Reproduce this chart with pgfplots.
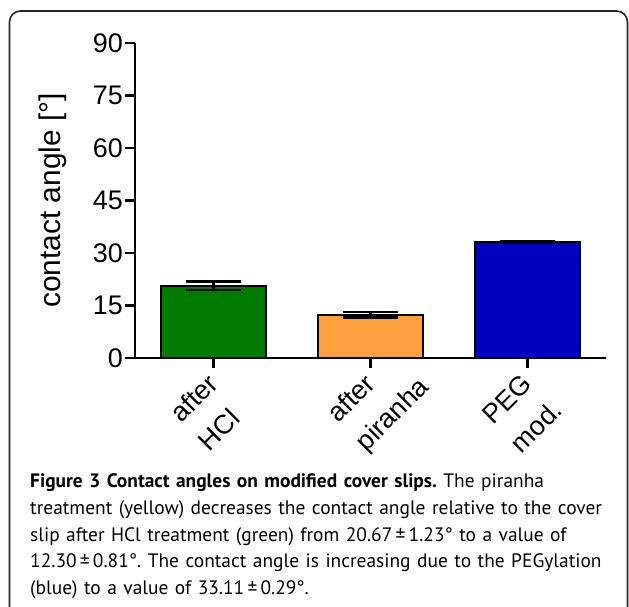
\documentclass[border=0pt]{standalone}
\usepackage{fontspec}
\setmainfont{Liberation Sans}
\newfontfamily\capfont{PT Sans}
\usepackage{pgfplots}
\pgfplotsset{compat=1.18}

\definecolor{barGreen}{RGB}{0,122,0}
\definecolor{barOrange}{RGB}{255,160,64}
\definecolor{barBlue}{RGB}{0,0,192}

% two-line tick label, left aligned; only the first line counts for the width
\newcommand\twoline[2]{\begin{tabular}{@{}l@{}}#1\\[6bp]\rlap{#2}\end{tabular}}

\begin{document}
\begin{tikzpicture}
\useasboundingbox (0bp,0bp) rectangle (629bp,607bp);
% frame round the figure, runs off the bottom of the page
\draw[line width=1.6bp, black!85, rounded corners=11bp] (9.5bp,-40bp) rectangle (627.5bp,596bp);

\begin{axis}[
  at={(135bp,249bp)}, anchor=south west,
  scale only axis, width=471bp, height=315bp,
  xmin=-0.5, xmax=2.5, ymin=0, ymax=90,
  axis x line*=bottom, axis y line*=left,
  axis line style={line width=2.6bp},
  xtick={0,1,2}, ytick={0,15,...,90},
  xticklabels={\twoline{after}{HCl},\twoline{after}{piranha},\twoline{PEG}{mod.}},
  tick align=outside, major tick length=10bp,
  tick style={line width=2.6bp, black},
  /pgf/number format/assume math mode=true,
  yticklabel style={font=\fontsize{27}{32}\selectfont, inner sep=2bp},
  xticklabel style={rotate=45, anchor=north east, xshift=-7bp, yshift=8bp,
    font=\fontsize{27}{34}\selectfont, inner sep=1bp},
  ylabel={contact angle [°]},
  every axis y label/.style={at={(axis description cs:-0.175,0.5)}, rotate=90,
    anchor=center, font=\fontsize{30}{34}\selectfont},
  ybar, bar width=105bp,
  error bars/error bar style={line width=2.6bp, black},
  error bars/error mark options={rotate=90, mark size=27.5bp, line width=2.6bp, black},
]
\addplot[fill=barGreen, draw=black, line width=2.2bp, bar shift=0pt,
  error bars/.cd, y dir=both, y explicit]
  coordinates {(0,20.67) +- (0,1.23)};
\addplot[fill=barOrange, draw=black, line width=2.2bp, bar shift=0pt,
  error bars/.cd, y dir=both, y explicit]
  coordinates {(1,12.30) +- (0,0.81)};
\addplot[fill=barBlue, draw=black, line width=2.2bp, bar shift=0pt,
  error bars/.cd, y dir=both, y explicit]
  coordinates {(2,33.11) +- (0,0.29)};
\end{axis}

\node[anchor=base west, text width=600bp, align=left, inner sep=0pt,
  font=\capfont\fontsize{19.5}{26.7}\selectfont\frenchspacing] at (30bp,119bp)
  {\textbf{Figure 3 Contact angles on modified cover slips.} The piranha\\
   treatment (yellow) decreases the contact angle relative to the cover\\
   slip after HCl treatment (green) from 20.67\,±\,1.23° to a value of\\
   12.30\,±\,0.81°. The contact angle is increasing due to the PEGylation\\
   (blue) to a value of 33.11\,±\,0.29°.};
\end{tikzpicture}
\end{document}
